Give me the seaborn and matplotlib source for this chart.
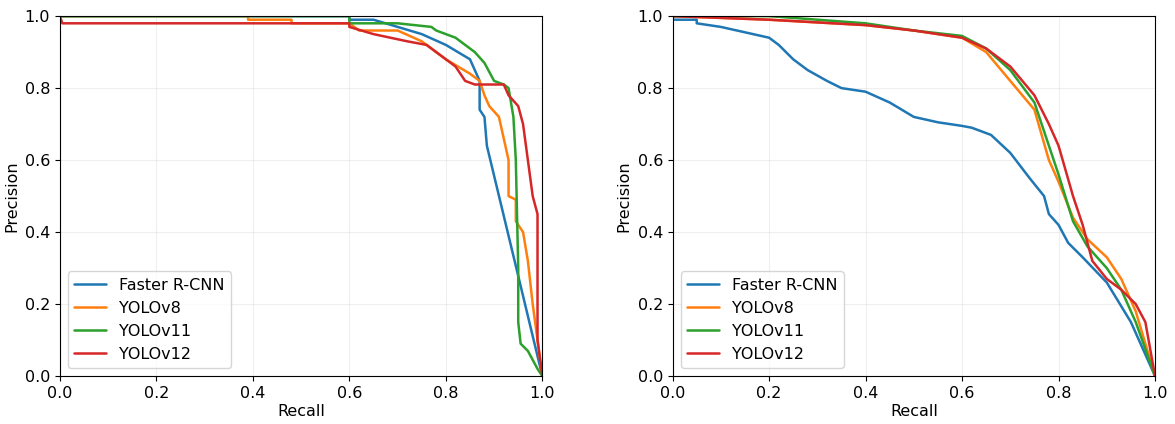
import matplotlib
matplotlib.use("Agg")
import matplotlib.pyplot as plt
import seaborn as sns

sns.set_style("ticks")
plt.rcParams['font.family'] = ['DejaVu Sans']
plt.rcParams['text.color'] = 'black'
plt.rcParams['axes.labelcolor'] = 'black'
plt.rcParams['xtick.color'] = 'black'
plt.rcParams['ytick.color'] = 'black'
plt.rcParams['axes.edgecolor'] = 'black'

models = ['Faster R-CNN', 'YOLOv8', 'YOLOv11', 'YOLOv12']
colors = ['#1f77b4', '#ff7f0e', '#2ca02c', '#d62728']

# left panel: (recall, precision)
left_frcnn_r = [0, 0.6, 0.6, 0.65, 0.7, 0.75, 0.8, 0.85, 0.87, 0.87, 0.88, 0.885, 1.0]
left_frcnn_p = [1.0, 1.0, 0.99, 0.99, 0.97, 0.95, 0.92, 0.88, 0.82, 0.74, 0.72, 0.64, 0.0]
left_v8_r = [0, 0.39, 0.39, 0.48, 0.48, 0.6, 0.62, 0.7, 0.75, 0.8, 0.85, 0.87, 0.88, 0.89, 0.91, 0.93, 0.93, 0.945, 0.945, 0.96, 0.97, 0.98, 0.99, 1.0]
left_v8_p = [1.0, 1.0, 0.99, 0.99, 0.98, 0.98, 0.96, 0.96, 0.93, 0.88, 0.84, 0.82, 0.78, 0.75, 0.72, 0.6, 0.5, 0.49, 0.43, 0.4, 0.32, 0.2, 0.1, 0.0]
left_v11_r = [0, 0.6, 0.6, 0.7, 0.77, 0.78, 0.82, 0.84, 0.86, 0.88, 0.9, 0.92, 0.93, 0.94, 0.945, 0.95, 0.95, 0.955, 0.97, 0.99, 1.0]
left_v11_p = [1.0, 1.0, 0.98, 0.98, 0.97, 0.96, 0.94, 0.92, 0.9, 0.87, 0.82, 0.81, 0.8, 0.72, 0.6, 0.3, 0.15, 0.09, 0.07, 0.02, 0.0]
left_v12_r = [0, 0.005, 0.6, 0.6, 0.65, 0.72, 0.76, 0.8, 0.82, 0.84, 0.86, 0.92, 0.93, 0.95, 0.96, 0.97, 0.98, 0.99, 0.99, 1.0]
left_v12_p = [1.0, 0.98, 0.98, 0.97, 0.95, 0.93, 0.92, 0.88, 0.86, 0.82, 0.81, 0.81, 0.78, 0.75, 0.7, 0.6, 0.5, 0.45, 0.1, 0.0]

# right panel
right_frcnn_r = [0, 0.05, 0.05, 0.1, 0.15, 0.2, 0.22, 0.25, 0.28, 0.32, 0.35, 0.4, 0.45, 0.5, 0.55, 0.6, 0.62, 0.66, 0.7, 0.74, 0.77, 0.78, 0.8, 0.82, 0.85, 0.9, 0.95, 1.0]
right_frcnn_p = [0.99, 0.99, 0.98, 0.97, 0.955, 0.94, 0.92, 0.88, 0.85, 0.82, 0.8, 0.79, 0.76, 0.72, 0.705, 0.695, 0.69, 0.67, 0.62, 0.55, 0.5, 0.45, 0.42, 0.37, 0.33, 0.26, 0.15, 0.0]
right_v8_r = [0, 0.2, 0.4, 0.5, 0.6, 0.65, 0.7, 0.75, 0.78, 0.8, 0.83, 0.86, 0.9, 0.93, 0.96, 1.0]
right_v8_p = [1.0, 0.99, 0.975, 0.96, 0.94, 0.9, 0.82, 0.74, 0.6, 0.54, 0.44, 0.38, 0.33, 0.27, 0.18, 0.0]
right_v11_r = [0, 0.2, 0.4, 0.5, 0.6, 0.65, 0.7, 0.75, 0.78, 0.8, 0.83, 0.86, 0.9, 0.93, 0.96, 1.0]
right_v11_p = [1.0, 1.0, 0.98, 0.96, 0.945, 0.91, 0.85, 0.76, 0.64, 0.56, 0.43, 0.36, 0.3, 0.24, 0.15, 0.0]
right_v12_r = [0, 0.2, 0.4, 0.5, 0.6, 0.65, 0.7, 0.75, 0.78, 0.8, 0.83, 0.85, 0.87, 0.9, 0.93, 0.96, 0.98, 1.0]
right_v12_p = [1.0, 0.99, 0.975, 0.96, 0.94, 0.91, 0.86, 0.78, 0.7, 0.64, 0.5, 0.42, 0.32, 0.27, 0.24, 0.2, 0.15, 0.0]

left = [(left_frcnn_r, left_frcnn_p), (left_v8_r, left_v8_p), (left_v11_r, left_v11_p), (left_v12_r, left_v12_p)]
right = [(right_frcnn_r, right_frcnn_p), (right_v8_r, right_v8_p), (right_v11_r, right_v11_p), (right_v12_r, right_v12_p)]

fig, axes = plt.subplots(1, 2, figsize=(11.75, 4.24), dpi=100)
for ax, curves in zip(axes, [left, right]):
    for (r, p), name, c in zip(curves, models, colors):
        sns.lineplot(x=r, y=p, ax=ax, color=c, label=name, sort=False, estimator=None, linewidth=1.8)
    ax.set_xlim(0, 1)
    ax.set_ylim(0, 1)
    ax.set_xlabel('Recall', fontsize=11.5, labelpad=2)
    ax.set_ylabel('Precision', fontsize=11.5, labelpad=4)
    ax.tick_params(labelsize=11.5)
    ax.grid(alpha=0.3)
    ax.legend(loc='lower left', fontsize=11.5)

plt.subplots_adjust(left=0.051, right=0.983, top=0.962, bottom=0.113, wspace=0.27)
plt.savefig('out.png', dpi=100)
